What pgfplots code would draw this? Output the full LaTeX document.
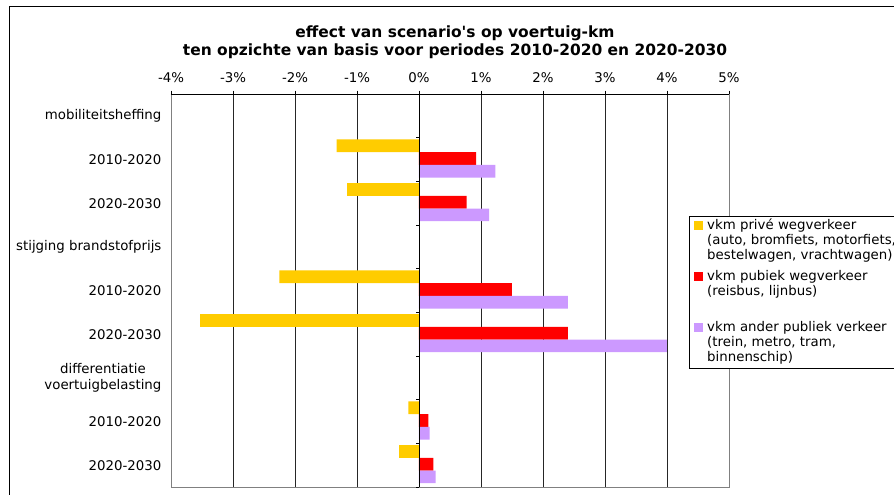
\documentclass[border=0pt]{standalone}
\usepackage{pgfplots}
\pgfplotsset{compat=1.18}
\usepackage{fontspec}
\setmainfont{DejaVu Sans}

\definecolor{barYellow}{HTML}{FFCC00}
\definecolor{barRed}{HTML}{FF0000}
\definecolor{barLilac}{HTML}{CC99FF}

% multi-line legend text, aligned on its first line
\newcommand{\lgtext}[1]{\begin{tabular}[t]{@{}l@{}}#1\end{tabular}}

\pgfplotsset{
  sqlegend/.style={legend image code/.code={\fill[##1] (0pt,0pt) rectangle (6.75pt,6.75pt);}},
}

\begin{document}
\begin{tikzpicture}
\useasboundingbox (0pt,0pt) rectangle (670.5pt,-371.25pt);
\clip (0pt,0pt) rectangle (670.5pt,-371.25pt);
\fill[white] (0pt,0pt) rectangle (670.5pt,-371.25pt);
% chart frame
\draw[line width=0.75pt] (7pt,-4.9pt) rectangle (720pt,-420pt);
% title
\node[font=\bfseries\fontsize{11.6}{13.5}\selectfont, align=center] at (341.25pt,-31.5pt)
  {effect van scenario\textquotesingle s op voertuig-km\\ten opzichte van basis voor periodes 2010-2020 en 2020-2030};

\begin{axis}[
  at={(128.25pt,-365.25pt)}, anchor=south west,
  scale only axis, width=418.5pt, height=294.75pt,
  xmin=-4, xmax=5, ymin=-0.5, ymax=8.5, y dir=reverse,
  xtick={-4,...,5},
  xticklabels={-4\%,-3\%,-2\%,-1\%,0\%,1\%,2\%,3\%,4\%,5\%},
  xtick pos=right, xticklabel pos=right,
  ytick={0,...,8},
  yticklabels={mobiliteitsheffing,2010-2020,2020-2030,stijging brandstofprijs,2010-2020,2020-2030,{differentiatie\\voertuigbelasting},2010-2020,2020-2030},
  ytick style={draw=none},
  tick align=outside, major tick length=2.5pt,
  xtick style={black, line width=0.6pt},
  xmajorgrids, major grid style={black!85, line width=0.6pt},
  axis line style={draw=gray, line width=0.6pt},
  tick label style={font=\fontsize{10}{12}\selectfont},
  x tick label style={inner sep=0pt, yshift=6pt},
  y tick label style={align=center, inner sep=0pt, xshift=-4.5pt},
  legend style={at={(0.9283,0.6903)}, anchor=north west, draw=black, line width=0.75pt,
    font=\fontsize{10}{11.1}\selectfont, inner xsep=3.75pt, inner ysep=2.2pt,
    row sep=4.95pt, column sep=2.8pt, cells={anchor=base west},
    nodes={inner sep=0pt, text depth=, text height=}},
]
\addplot[xbar, bar width=9.5pt, bar shift=10.3pt, fill=barYellow, draw=none, sqlegend]
  coordinates {(-1.33,1) (-1.16,2) (-2.25,4) (-3.53,5) (-0.17,7) (-0.32,8)};
\addlegendentry{\lgtext{vkm privé wegverkeer\\(auto, bromfiets, motorfiets,\\bestelwagen, vrachtwagen)}}
\addplot[xbar, bar width=9.5pt, bar shift=0.75pt, fill=barRed, draw=none, sqlegend]
  coordinates {(0.92,1) (0.77,2) (1.50,4) (2.40,5) (0.15,7) (0.23,8)};
\addlegendentry{\lgtext{vkm pubiek wegverkeer\\(reisbus, lijnbus)\\\mbox{}}}
\addplot[xbar, bar width=9.5pt, bar shift=-8.8pt, fill=barLilac, draw=none, sqlegend]
  coordinates {(1.23,1) (1.13,2) (2.40,4) (4.00,5) (0.17,7) (0.27,8)};
\addlegendentry{\lgtext{vkm ander publiek verkeer\\(trein, metro, tram,\\binnenschip)}}
% value axis at 0% with category separators
\draw[black, line width=0.6pt] (axis cs:0,-0.5) -- (axis cs:0,8.5);
\draw[black, line width=0.6pt] (axis cs:-4,-0.5) -- (axis cs:5,-0.5);
\pgfplotsinvokeforeach{-0.5,0.5,...,8.5}{\draw[black, line width=0.6pt] (axis cs:0,#1) -- ++(-2.5pt,0pt);}
\end{axis}
\end{tikzpicture}
\end{document}
